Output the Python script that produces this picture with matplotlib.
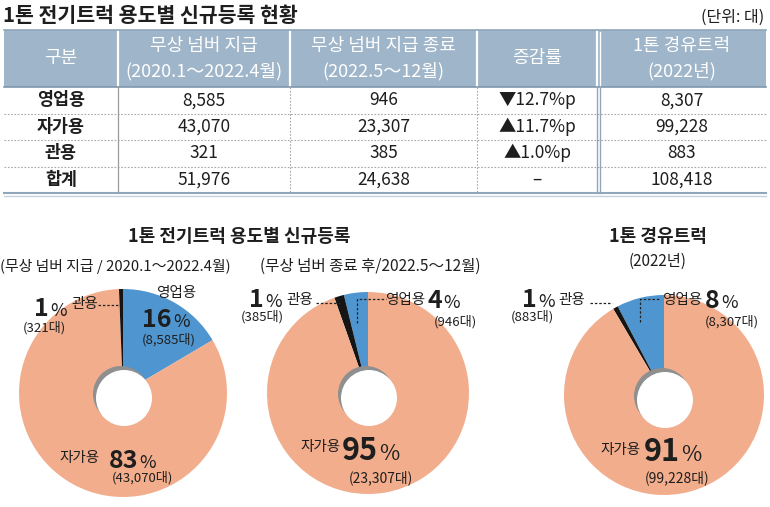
import matplotlib
matplotlib.use("Agg")
import matplotlib.pyplot as plt
from matplotlib.patches import Rectangle, Circle

plt.rcParams['font.family'] = ['Noto Sans CJK KR', 'DejaVu Sans']

W, H = 770, 507

# table values
categories = ['영업용', '자가용', '관용', '합계']
free_plate = [8585, 43070, 321, 51976]
after_free = [946, 23307, 385, 24638]
change_rate = ['▼12.7%p', '▲11.7%p', '▲1.0%p', '–']
diesel_2022 = [8307, 99228, 883, 108418]
col_titles = [['구분'],
              ['무상 넘버 지급', '(2020.1～2022.4월)'],
              ['무상 넘버 지급 종료', '(2022.5～12월)'],
              ['증감률'],
              ['1톤 경유트럭', '(2022년)']]

# pie values (영업용, 자가용, 관용)
pie_labels = ['영업용', '자가용', '관용']
pie_free = [8585, 43070, 321]
pie_after = [946, 23307, 385]
pie_diesel = [8307, 99228, 883]
pct_free = [16, 83, 1]
pct_after = [4, 95, 1]
pct_diesel = [8, 91, 1]

pie_colors = ['#4f96d0', '#f2ad8c', '#151515']
header_color = '#9fb5c9'
line_color = '#8fa6bb'
txt = '#1e1e1e'

fig = plt.figure(figsize=(W / 100, H / 100), dpi=100, facecolor='white')

# overlay axes in pixel coords (y down)
ax = fig.add_axes([0, 0, 1, 1], zorder=3)
ax.set_xlim(0, W)
ax.set_ylim(H, 0)
ax.set_facecolor('none')
ax.axis('off')

# ---- table ----
ax.text(3, 15, '1톤 전기트럭 용도별 신규등록 현황', fontsize=14.8, fontweight='bold',
        color=txt, va='center', ha='left')
ax.text(764, 17, '(단위: 대)', fontsize=11.5, color=txt, va='center', ha='right')

col_edges = [4, 118, 290, 477, 597, 766]
head_top, head_bot = 30, 87
row_edges = [87, 113.5, 140, 166.5, 193]

ax.add_patch(Rectangle((col_edges[0], head_top), col_edges[-1] - col_edges[0],
                       head_bot - head_top, facecolor=header_color, edgecolor='none', zorder=1))
ax.plot([col_edges[0], col_edges[-1]], [head_top, head_top], color=line_color, lw=1.2)
ax.plot([col_edges[0], col_edges[-1]], [head_bot, head_bot], color='#7f97ad', lw=1.2)
for x in col_edges[1:-1]:
    ax.plot([x, x], [head_top + 2, head_bot - 2], color='white', lw=1.6, zorder=2)
ax.plot([col_edges[4] + 3, col_edges[4] + 3], [head_top + 2, head_bot - 2], color='white', lw=1.0, zorder=2)

for i, lines in enumerate(col_titles):
    cx = (col_edges[i] + col_edges[i + 1]) / 2
    if len(lines) == 1:
        ax.text(cx, 58, lines[0], fontsize=13, color='white', ha='center', va='center', zorder=3)
    else:
        ax.text(cx, 46, lines[0], fontsize=13, color='white', ha='center', va='center', zorder=3)
        ax.text(cx, 71, lines[1], fontsize=13, color='white', ha='center', va='center', zorder=3)

columns = [categories,
           [f'{v:,}' for v in free_plate],
           [f'{v:,}' for v in after_free],
           change_rate,
           [f'{v:,}' for v in diesel_2022]]
for r in range(len(categories)):
    cy = (row_edges[r] + row_edges[r + 1]) / 2
    for c, col in enumerate(columns):
        cx = (col_edges[c] + col_edges[c + 1]) / 2
        ax.text(cx, cy, col[r], fontsize=12.5, color=txt, ha='center', va='center',
                fontweight='bold' if c == 0 else 'normal')
    if r < len(categories) - 1:
        ax.plot([col_edges[0], col_edges[-1]], [row_edges[r + 1]] * 2, color='#a8a8a8',
                lw=0.8, linestyle=(0, (1.5, 1.5)))

ax.plot([col_edges[1]] * 2, [head_bot, row_edges[-1]], color='#9a9a9a', lw=0.9)
for x in col_edges[2:4]:
    ax.plot([x, x], [head_bot, row_edges[-1]], color='#a8a8a8', lw=0.8, linestyle=(0, (1.5, 1.5)))
ax.plot([col_edges[4]] * 2, [head_bot, row_edges[-1]], color=line_color, lw=1.0)
ax.plot([col_edges[4] + 3] * 2, [head_bot, row_edges[-1]], color=line_color, lw=1.0)
ax.plot([col_edges[0], col_edges[-1]], [row_edges[-1], row_edges[-1]], color=line_color, lw=1.5)
ax.plot([col_edges[0], col_edges[-1]], [row_edges[-1] + 3, row_edges[-1] + 3], color='#c5d1dc', lw=1.0)

# ---- section titles ----
ax.text(239, 236, '1톤 전기트럭 용도별 신규등록', fontsize=13, fontweight='bold',
        color=txt, ha='center', va='center')
ax.text(0, 266, '(무상 넘버 지급 / 2020.1～2022.4월)', fontsize=10.7, color=txt,
        ha='left', va='center')
ax.text(370, 266, '(무상 넘버 종료 후/2022.5～12월)', fontsize=11.2, color=txt,
        ha='center', va='center')
ax.text(658, 236, '1톤 경유트럭', fontsize=13, fontweight='bold', color=txt,
        ha='center', va='center')
ax.text(658, 261, '(2022년)', fontsize=11, color=txt, ha='center', va='center')


# ---- donuts ----
def donut(cx, cy, r, values, clockwise, order):
    box = 112
    pax = fig.add_axes([(cx - box) / W, (H - cy - box) / H, 2 * box / W, 2 * box / H], zorder=1)
    rr = r / box
    pax.pie([values[i] for i in order], colors=[pie_colors[i] for i in order],
            startangle=90, counterclock=not clockwise, radius=rr,
            wedgeprops=dict(width=rr * 0.78, edgecolor='none'))
    # hole, drawn a little low with a grey inner shadow on its upper left
    hole = 28 / box
    hx, hy = 0, -4 / box
    pax.add_patch(Circle((hx - 2 / box, hy + 3 / box), hole, facecolor='#8f8f8f', edgecolor='none'))
    pax.add_patch(Circle((hx + 1 / box, hy - 1 / box), hole, facecolor='white', edgecolor='none'))
    pax.set_xlim(-1, 1)
    pax.set_ylim(-1, 1)
    pax.set_aspect('equal')
    pax.axis('off')


donut(123, 393, 104, pie_free, True, [0, 1, 2])
donut(368, 393, 101, pie_after, False, [0, 2, 1])
donut(664, 395, 100, pie_diesel, False, [0, 2, 1])


def pct(x, y, num, size):
    ax.text(x, y, str(num), fontsize=size, fontweight='bold', color=txt, ha='right', va='baseline')
    ax.text(x + 1, y, '%', fontsize=size * 0.72, color=txt, ha='left', va='baseline')


def dots(xs, ys):
    ax.plot(xs, ys, color='#222222', lw=0.9, linestyle=(0, (2, 1.5)))


lbl = 10.5
cnt = 9.5

# pie 1 labels
ax.text(176, 293, pie_labels[0], fontsize=lbl, color=txt, ha='center', va='center')
pct(172, 327, pct_free[0], 18)
ax.text(169, 340, f'({pie_free[0]:,}대)', fontsize=cnt, color=txt, ha='center', va='center')
pct(49, 316, pct_free[2], 18)
ax.text(85, 304, pie_labels[2], fontsize=lbl, color=txt, ha='center', va='center')
dots([98, 119], [305, 305])
ax.text(44, 328, f'({pie_free[2]:,}대)', fontsize=cnt, color=txt, ha='center', va='center')
ax.text(80, 458, pie_labels[1], fontsize=lbl, color=txt, ha='center', va='center')
pct(138, 468, pct_free[1], 18)
ax.text(142, 478, f'({pie_free[1]:,}대)', fontsize=cnt, color=txt, ha='center', va='center')

# pie 2 labels
pct(264, 307, pct_after[2], 18)
ax.text(300, 300, pie_labels[2], fontsize=lbl, color=txt, ha='center', va='center')
dots([316, 340], [303, 303])
ax.text(262, 317, f'({pie_after[2]:,}대)', fontsize=cnt, color=txt, ha='center', va='center')
ax.text(405, 300, pie_labels[0], fontsize=lbl, color=txt, ha='center', va='center')
pct(442, 308, pct_after[0], 18)
dots([357, 357, 386], [323, 299, 299])
ax.text(455, 322, f'({pie_after[0]:,}대)', fontsize=cnt, color=txt, ha='center', va='center')
ax.text(321, 447, pie_labels[1], fontsize=lbl, color=txt, ha='center', va='center')
pct(378, 460, pct_after[1], 22)
ax.text(381, 478, f'({pie_after[1]:,}대)', fontsize=10, color=txt, ha='center', va='center')

# pie 3 labels
pct(537, 307, pct_diesel[2], 18)
ax.text(572, 300, pie_labels[2], fontsize=lbl, color=txt, ha='center', va='center')
dots([590, 612], [303, 303])
ax.text(532, 317, f'({pie_diesel[2]:,}대)', fontsize=cnt, color=txt, ha='center', va='center')
ax.text(682, 300, pie_labels[0], fontsize=lbl, color=txt, ha='center', va='center')
pct(720, 308, pct_diesel[0], 18)
dots([640, 640, 660], [322, 299, 299])
ax.text(732, 322, f'({pie_diesel[0]:,}대)', fontsize=cnt, color=txt, ha='center', va='center')
ax.text(621, 450, pie_labels[1], fontsize=lbl, color=txt, ha='center', va='center')
pct(680, 461, pct_diesel[1], 22)
ax.text(677, 478, f'({pie_diesel[1]:,}대)', fontsize=10, color=txt, ha='center', va='center')

fig.savefig('out.png', dpi=100, facecolor='white')
